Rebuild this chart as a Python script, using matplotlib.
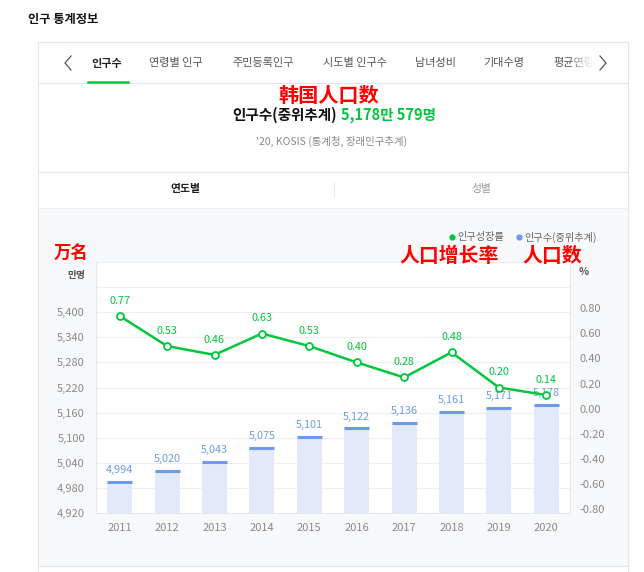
import numpy as np
import matplotlib
matplotlib.use("Agg")
import matplotlib.pyplot as plt
import matplotlib.patches as patches
import matplotlib.transforms as mtransforms
from matplotlib.lines import Line2D

plt.rcParams['font.family'] = ['Noto Sans CJK KR', 'DejaVu Sans']

# 데이터
years = ['2011', '2012', '2013', '2014', '2015', '2016', '2017', '2018', '2019', '2020']
population = [4994, 5020, 5043, 5075, 5101, 5122, 5136, 5161, 5171, 5178]   # 만명
growth = [0.77, 0.53, 0.46, 0.63, 0.53, 0.40, 0.28, 0.48, 0.20, 0.14]        # %
left_ticks = [4920, 4980, 5040, 5100, 5160, 5220, 5280, 5340, 5400, 5460, 5520]
right_ticks = [-0.8, -0.6, -0.4, -0.2, 0.0, 0.2, 0.4, 0.6, 0.8, 1.0, 1.2]
tabs = ['인구수', '연령별 인구', '주민등록인구', '시도별 인구수', '남녀성비', '기대수명']
tab_x = [107, 176, 263, 355, 436, 504]

GREEN = '#00c73c'
BLUE = '#6e9ae9'
BAR = '#e2eafa'
GRID = '#eeeff1'
TICK = '#8a8a8a'
BORDER = '#e4e6e9'
CJK_SC = ['Noto Sans CJK SC', 'DejaVu Sans']

W, H = 644, 572
fig = plt.figure(figsize=(W / 100, H / 100), dpi=100)
fig.patch.set_facecolor('white')


def fx(x):
    return x / W


def fy(y):
    return 1 - y / H


def hline(x0, x1, y, color=BORDER, lw=0.8, z=2):
    fig.add_artist(Line2D([fx(x0), fx(x1)], [fy(y), fy(y)], transform=fig.transFigure,
                          color=color, lw=lw, zorder=z))


def vline(x, y0, y1, color=BORDER, lw=0.8, z=2):
    fig.add_artist(Line2D([fx(x), fx(x)], [fy(y0), fy(y1)], transform=fig.transFigure,
                          color=color, lw=lw, zorder=z))


def rect(x0, y0, x1, y1, color, z=-1):
    fig.add_artist(patches.Rectangle((fx(x0), fy(y1)), (x1 - x0) / W, (y1 - y0) / H,
                                     transform=fig.transFigure, facecolor=color,
                                     edgecolor='none', zorder=z))


def text(x, y, s, **kw):
    fig.text(fx(x), fy(y), s, **kw)


# 헤더
text(28, 20, '인구 통계정보', fontsize=8.8, fontweight='bold', color='#111', va='center')

# 카드 테두리
hline(38, 628, 42)
vline(38, 42, 572)
vline(628, 42, 572)

# 탭
for name, x in zip(tabs, tab_x):
    if name == '인구수':
        text(x, 63, name, fontsize=8, fontweight='bold', color='#222', ha='center', va='center')
    else:
        text(x, 63, name, fontsize=8, color='#555', ha='center', va='center')
text(553, 63, '평균연령', fontsize=8, color='#555', ha='left', va='center')
fade = fig.add_axes([fx(571), fy(75), 22 / W, 24 / H], zorder=5)
grad = np.ones((2, 64, 4))
grad[..., 3] = np.linspace(0, 1, 64) ** 0.8
fade.imshow(grad, aspect='auto', extent=[0, 1, 0, 1])
fade.axis('off')
rect(592, 50, 626, 76, 'white', z=6)
fig.add_artist(Line2D([fx(71), fx(65), fx(71)], [fy(56), fy(63), fy(70)], transform=fig.transFigure,
                      color='#555', lw=0.9, zorder=10))
fig.add_artist(Line2D([fx(600), fx(606), fx(600)], [fy(56), fy(63), fy(70)], transform=fig.transFigure,
                      color='#555', lw=0.9, zorder=10))
hline(38, 628, 83)
hline(88, 128, 82, color=GREEN, lw=1.8, z=3)

# 제목 영역
text(329, 95, '韩国人口数', fontsize=14.5, fontweight='bold', color='#ff0000',
     ha='center', va='center', family=CJK_SC)
text(337, 115, '인구수(중위추계)', fontsize=10.5, fontweight='bold', color='#111', ha='right', va='center')
text(341, 115, '5,178만 579명', fontsize=10.5, fontweight='bold', color=GREEN, ha='left', va='center')
text(332, 141, "'20, KOSIS (통계청, 장래인구추계)", fontsize=7.5, color='#888', ha='center', va='center')

# 하위 탭
hline(38, 628, 172)
text(185, 189, '연도별', fontsize=7.8, fontweight='bold', color='#222', ha='center', va='center')
text(481, 189, '성별', fontsize=7.8, color='#999', ha='center', va='center')
vline(334, 183, 196, color='#e8e8e8')

# 차트 배경
rect(38, 208, 628, 566, '#f8f9fb')
hline(38, 628, 208, color='#eef0f2')
hline(38, 628, 566, color=BORDER)

# 범례와 주석
fig.add_artist(Line2D([fx(452)], [fy(237)], transform=fig.transFigure, marker='o', ms=3.5,
                      color=GREEN, lw=0))
text(457, 237, '인구성장률', fontsize=7.3, color='#666', va='center')
fig.add_artist(Line2D([fx(519)], [fy(237)], transform=fig.transFigure, marker='o', ms=3.5,
                      color=BLUE, lw=0))
text(524, 237, '인구수(중위추계)', fontsize=7.3, color='#666', va='center')

text(71, 253, '万名', fontsize=12.5, fontweight='bold', color='#ff0000', ha='center', va='center',
     family=CJK_SC)
text(449, 256, '人口增长率', fontsize=14.3, fontweight='bold', color='#ff0000', ha='center', va='center',
     family=CJK_SC)
text(552, 256, '人口数', fontsize=14.3, fontweight='bold', color='#ff0000', ha='center', va='center',
     family=CJK_SC)
text(76, 275, '만명', fontsize=7, fontweight='bold', color='#555', ha='center', va='center')
text(584, 272, '%', fontsize=7.5, fontweight='bold', color='#555', ha='center', va='center')

# 차트
ax = fig.add_axes([fx(96), fy(513), (570 - 96) / W, (513 - 262) / H])
ax.set_facecolor('white')
x = np.arange(len(years))
ax.bar(x, population, width=0.53, color=BAR, zorder=2)
ax.hlines(population, x - 0.265, x + 0.265, color=BLUE, lw=2.2, zorder=3)
for xi, v in zip(x, population):
    ax.annotate(f'{v:,}', (xi, v), xytext=(0, 8.5), textcoords='offset points',
                ha='center', va='center', fontsize=7.8, color=BLUE, zorder=4)
ax.set_xlim(-0.5, len(years) - 0.5)
ax.set_ylim(left_ticks[0], left_ticks[-1])
ax.set_yticks(left_ticks)
ax.set_yticklabels([f'{v:,}' if v <= 5400 else '' for v in left_ticks])
ax.set_xticks(x)
ax.set_xticklabels(years)
ax.grid(axis='y', color=GRID, lw=0.8, zorder=0)
ax.tick_params(axis='y', length=0, pad=8, labelsize=8, labelcolor=TICK)
ax.tick_params(axis='x', length=0, pad=7, labelsize=8, labelcolor=TICK)
for side in ['left', 'right', 'bottom']:
    ax.spines[side].set_color('#e6e7ea')
    ax.spines[side].set_linewidth(0.8)
ax.spines['top'].set_visible(False)

ax2 = ax.twinx()
ax2.plot(x, growth, color=GREEN, lw=1.8, marker='o', ms=5, mfc='white', mec=GREEN, mew=1.3, zorder=5)
for xi, v in zip(x, growth):
    ax2.annotate(f'{v:.2f}', (xi, v), xytext=(0, 11), textcoords='offset points',
                 ha='center', va='center', fontsize=7.8, color=GREEN)
ax2.set_ylim(right_ticks[0], right_ticks[-1])
ax2.set_yticks(right_ticks)
ax2.set_yticklabels([f'{v:.2f}' if v <= 0.8 + 1e-9 else '' for v in right_ticks])
ax2.tick_params(axis='y', length=0, pad=7, labelsize=8, labelcolor=TICK)
shift = mtransforms.ScaledTranslation(0, 0.04, fig.dpi_scale_trans)
for lab in ax2.get_yticklabels():
    lab.set_transform(lab.get_transform() + shift)
for side in ['left', 'right', 'bottom', 'top']:
    ax2.spines[side].set_visible(False)

fig.savefig('out.png', dpi=100, facecolor='white')
